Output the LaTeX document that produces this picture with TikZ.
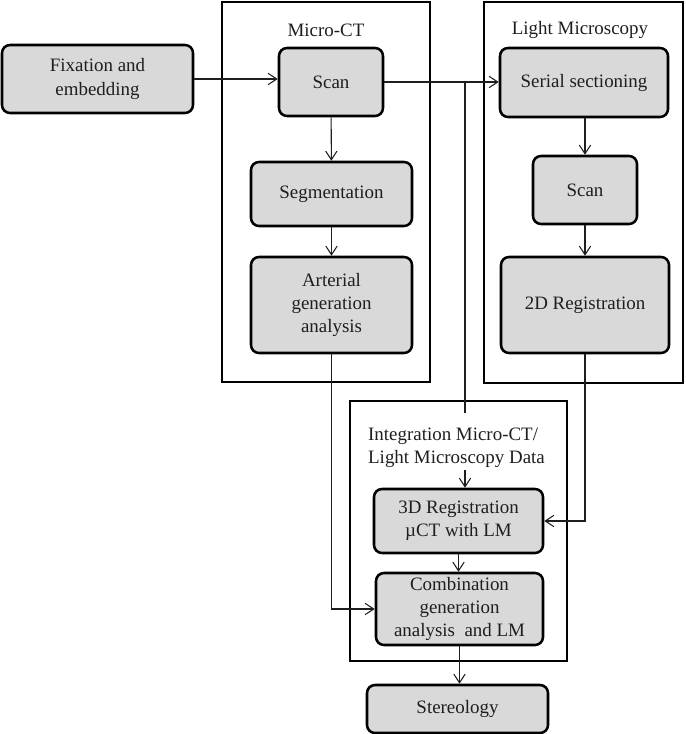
\documentclass[tikz,border=0pt]{standalone}
\usepackage{fontspec}
\setmainfont{Liberation Serif}
\usepackage{tikz}
\usetikzlibrary{arrows.meta}
\definecolor{boxgray}{RGB}{217,217,217}
\definecolor{inkgray}{RGB}{30,30,30}

\begin{document}
\begin{tikzpicture}[x=0.75pt, y=-0.75pt, font={\fontsize{14.2}{17.6}\selectfont},
  stage/.style={draw=black, fill=boxgray, line width=1.9pt, rounded corners=6pt,
    align=center, inner sep=2pt, text=inkgray},
  panel/.style={draw=black, line width=1.9pt},
  heading/.style={text=inkgray, inner sep=1pt},
  link/.style={draw=inkgray, line width=0.8pt},
  flow/.style={link, -{Straight Barb[length=6.5pt, width=8.5pt]}}]
  \useasboundingbox (0,0) rectangle (685,734);

  % frames
  \draw[panel] (222,2) rectangle (430,382);
  \draw[panel] (484,2) rectangle (683,383);
  \draw[panel] (350,401) rectangle (567,661);
  \node[heading] (cttitle) at (326,30) {Micro-CT};
  \node[heading] (lmtitle) at (580,30) {Light Microscopy};
  \node[heading, align=left] (integtitle) at (456.5,448) {Integration Micro-CT/\\Light Microscopy Data};

  % stages
  \node[stage, minimum width=143.25pt, minimum height=51pt] (fix) at (97.5,79) {Fixation and\\embedding};
  \node[stage, minimum width=78pt, minimum height=51pt] (scanct) at (331,82) {Scan};
  \node[stage, minimum width=120.75pt, minimum height=48pt] (seg) at (331.5,194) {Segmentation};
  \node[stage, minimum width=120.75pt, minimum height=72pt] (art) at (331.5,305) {Arterial\\generation\\analysis};
  \node[stage, minimum width=126pt, minimum height=51.75pt] (serial) at (584,82.5) {Serial sectioning};
  \node[stage, minimum width=78pt, minimum height=51pt] (scanlm) at (585,190) {Scan};
  \node[stage, minimum width=126pt, minimum height=72pt] (reg2d) at (585,305) {2D Registration};
  \node[stage, minimum width=126.75pt, minimum height=48pt] (reg3d) at (458.5,521) {3D Registration\\µCT with LM};
  \node[stage, minimum width=125.25pt, minimum height=54pt] (comb) at (459.5,609) {Combination\\generation\\analysis~ and LM};
  \node[stage, minimum width=135.75pt, minimum height=36pt] (stereo) at (457.5,709) {Stereology};

  % connectors
  \coordinate (split) at (465,82);
  \coordinate (splitend) at (465,413);
  \coordinate (intin) at (465,470);
  \draw[flow] (fix.east) -- (fix.east -| scanct.west);
  \draw[flow] (scanct.east) -- (scanct.east -| serial.west);
  \draw[link] (split) -- (splitend);
  \draw[flow] (scanct) -- (seg);
  \draw[flow] (seg) -- (art);
  \draw[flow] (serial.south -| scanlm) -- (scanlm);
  \draw[flow] (scanlm) -- (reg2d);
  \draw[flow] (art.south) |- (comb.west);
  \draw[flow] (reg2d.south) |- (reg3d.east);
  \draw[flow] (intin) -- (intin |- reg3d.north);
  \draw[flow] (reg3d.south) -- (reg3d.south |- comb.north);
  \draw[flow] (comb.south) -- (comb.south |- stereo.north);
\end{tikzpicture}
\end{document}
